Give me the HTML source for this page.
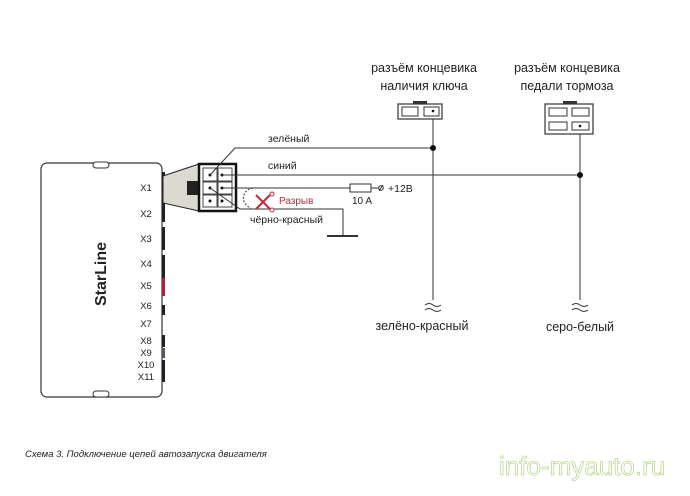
<!DOCTYPE html>
<html><head><meta charset="utf-8"><style>
body{margin:0;background:#fff}
svg text{font-family:"Liberation Sans","DejaVu Sans",sans-serif}
</style></head><body>
<svg width="690" height="491" viewBox="0 0 690 491" xmlns="http://www.w3.org/2000/svg">
<rect x="0" y="0" width="690" height="491" fill="#fff"/>
<rect x="41" y="163" width="121" height="234" rx="6" fill="#fff" stroke="#333" stroke-width="1.2"/>
<rect x="93" y="162" width="16" height="6" rx="3" fill="#fff" stroke="#333"/>
<rect x="93" y="391" width="16" height="6" rx="3" fill="#fff" stroke="#333"/>
<g fill="#222">
<rect x="162" y="172" width="3" height="20"/><rect x="162" y="200" width="3" height="22"/>
<rect x="162" y="227" width="3" height="23"/><rect x="162" y="255" width="3" height="23"/>
<rect x="162" y="305" width="3" height="10"/><rect x="162" y="335" width="3" height="12"/>
<rect x="162" y="360" width="3" height="22"/></g>
<rect x="162" y="278" width="3" height="18" fill="#b02040"/>
<rect x="162" y="348" width="3" height="10" fill="#556"/>
<g font-size="9.5" fill="#222" text-anchor="middle">
<text x="146" y="191">X1</text><text x="146" y="217">X2</text><text x="146" y="242">X3</text>
<text x="146" y="267">X4</text><text x="146" y="289">X5</text><text x="146" y="309">X6</text>
<text x="146" y="327">X7</text><text x="146" y="344">X8</text><text x="146" y="356">X9</text>
<text x="146" y="368">X10</text><text x="146" y="380">X11</text></g>
<text transform="translate(106,274) rotate(-90)" font-size="16" font-weight="bold" fill="#222" text-anchor="middle">StarLine</text>
<polygon points="163,176 199,164 199,211 163,203" fill="#dcd9d0" stroke="#222" stroke-width="1"/>
<rect x="187" y="181" width="12" height="14" fill="#222"/>
<rect x="199" y="164" width="37" height="47" fill="#fff" stroke="#111" stroke-width="2.5"/>
<g fill="none" stroke="#444" stroke-width="1">
<rect x="203" y="168" width="14" height="13"/><rect x="218" y="168" width="14" height="13"/>
<rect x="203" y="182" width="14" height="12"/><rect x="218" y="182" width="14" height="12"/>
<rect x="203" y="195" width="14" height="12"/><rect x="218" y="195" width="14" height="12"/></g>
<g fill="#111"><circle cx="210" cy="175" r="1.5"/><circle cx="222" cy="175" r="1.5"/><circle cx="210" cy="188" r="1.5"/><circle cx="222" cy="188" r="1.5"/><circle cx="210" cy="201" r="1.5"/><circle cx="222" cy="201" r="1.5"/></g>
<g stroke="#333" stroke-width="1" fill="none">
<polyline points="210,175 235,148 433,148"/>
<line x1="222" y1="175" x2="580" y2="175"/>
<line x1="222" y1="188" x2="350" y2="188"/>
<line x1="371" y1="188" x2="379" y2="188"/>
<polyline points="210,188 240,209 343,209 343,236"/>
<line x1="327" y1="236" x2="358" y2="236" stroke-width="2"/>
<path d="M253,188 C241,190 240,204 251,208" stroke-dasharray="2,1.5"/>
<rect x="350" y="184" width="21" height="8"/>
<circle cx="381" cy="188" r="2.3"/><line x1="379" y1="191" x2="383" y2="185"/>
<line x1="433" y1="110" x2="433" y2="300"/>
<line x1="580" y1="127" x2="580" y2="300"/>
<path d="M425,305 q4,-3 8,0 t8,0 M425,310 q4,-3 8,0 t8,0"/>
<path d="M572,305 q4,-3 8,0 t8,0 M572,310 q4,-3 8,0 t8,0"/>
</g>
<circle cx="433" cy="148" r="3" fill="#111"/><circle cx="580" cy="175" r="3" fill="#111"/>
<g stroke="#c8283c" stroke-width="2" fill="none">
<line x1="256" y1="195" x2="270" y2="209"/><line x1="256" y1="209" x2="270" y2="195"/></g>
<g stroke="#c8283c" stroke-width="1" fill="#fff"><circle cx="272" cy="194" r="2"/><circle cx="272" cy="210" r="2"/></g>
<text x="279" y="204" font-size="10" fill="#c8283c">Разрыв</text>
<g font-size="10.5" fill="#222">
<text x="268" y="142">зелёный</text>
<text x="268" y="169">синий</text>
<text x="388" y="192">+12В</text>
<text x="352" y="204" font-size="10">10 A</text>
<text x="250" y="223">чёрно-красный</text>
</g>
<rect x="398" y="104" width="44" height="15" fill="#fff" stroke="#333" stroke-width="1.2"/>
<rect x="413" y="101" width="14" height="3" fill="#333"/>
<rect x="402" y="107" width="16" height="9" fill="none" stroke="#333"/>
<rect x="424" y="107" width="15" height="9" fill="none" stroke="#333"/>
<circle cx="433" cy="111" r="1.3" fill="#111"/>
<rect x="545" y="104" width="48" height="30" fill="#fff" stroke="#333" stroke-width="1.2"/>
<rect x="563" y="101" width="14" height="3" fill="#333"/>
<rect x="549" y="108" width="18" height="8" fill="none" stroke="#333"/>
<rect x="572" y="108" width="17" height="8" fill="none" stroke="#333"/>
<rect x="549" y="122" width="18" height="8" fill="none" stroke="#333"/>
<rect x="572" y="122" width="17" height="8" fill="none" stroke="#333"/>
<circle cx="580" cy="126" r="1.3" fill="#111"/>
<g font-size="12.5" fill="#222" text-anchor="middle">
<text x="424" y="72">разъём концевика</text>
<text x="424" y="90">наличия ключа</text>
<text x="567" y="72">разъём концевика</text>
<text x="567" y="90">педали тормоза</text>
<text x="422" y="330">зелёно-красный</text>
<text x="580" y="331">серо-белый</text>
</g>
<text x="25" y="457" font-size="9.5" font-style="italic" fill="#222">Схема 3. Подключение цепей автозапуска двигателя</text>
<text x="499" y="475" font-size="26" fill="#fff" stroke="#a8cc70" stroke-width="0.6">info-myauto.ru</text>
</svg>
</body></html>
